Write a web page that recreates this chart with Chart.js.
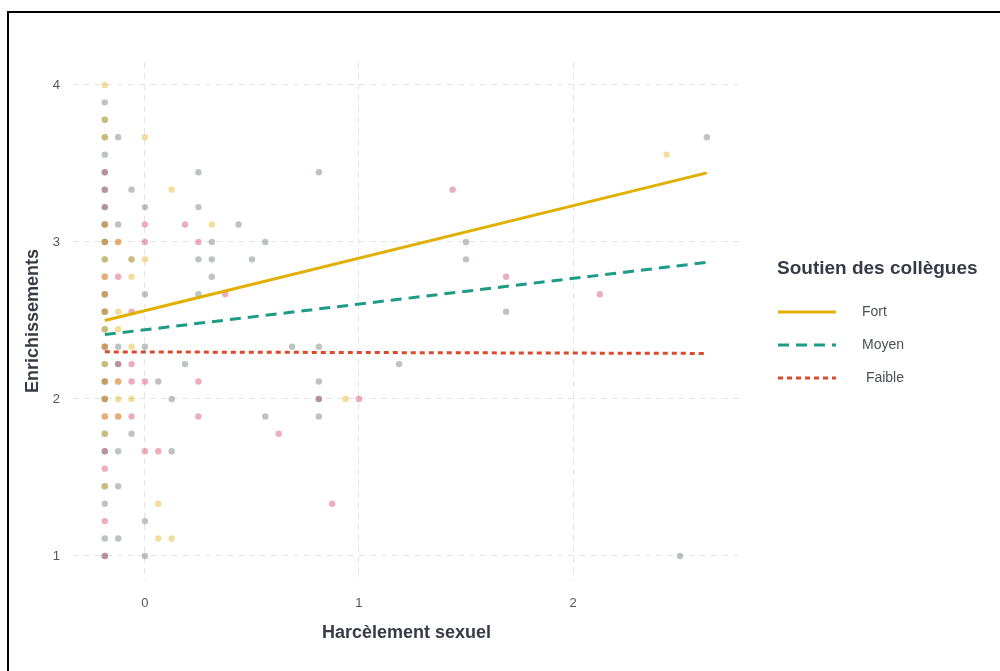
<!DOCTYPE html>
<html>
<head>
<meta charset="utf-8">
<script src="https://cdn.jsdelivr.net/npm/chart.js@4"></script>
<style>
  html, body { margin: 0; padding: 0; background: #fff; }
  #wrap { position: relative; width: 1000px; height: 671px; overflow: hidden; }
  #frame { position: absolute; left: 7px; top: 11px; width: 1100px; height: 800px;
           border-left: 2px solid #000; border-top: 2px solid #000; pointer-events: none; }
</style>
</head>
<body>
<div id="wrap">
  <canvas id="c" width="1000" height="671"></canvas>
  <div id="frame"></div>
</div>
<script>
// group names, as in the legend
const groups = ['Fort', 'Moyen', ' Faible'];

// observations, one array pair per group (x = harcèlement, y = enrichissements)
const fortX = [
  -0.1875, -0.1875, -0.1875, -0.1875, -0.1875, -0.1875, -0.1875, -0.1875, -0.1875,
  -0.1875, -0.1875, -0.1875, -0.1875, -0.1875, -0.1875, -0.1875, -0.1875,
  -0.125, -0.125, -0.125, -0.125, -0.125, -0.125,
  -0.0625, -0.0625, -0.0625, -0.0625,
  0, 0, 0.0625, 0.0625, 0.125, 0.125, 0.3125, 0.9375, 2.4375
];
const fortY = [
  4, 3.778, 3.667, 3.111, 3, 2.889, 2.778, 2.667, 2.556,
  2.444, 2.333, 2.222, 2.111, 2, 1.889, 1.778, 1.444,
  3, 2.556, 2.444, 2.111, 2, 1.889,
  2.889, 2.778, 2.333, 2,
  3.667, 2.889, 1.333, 1.111, 3.333, 1.111, 3.111, 2, 3.556
];

const moyenX = [
  -0.1875, -0.1875, -0.1875, -0.1875, -0.1875, -0.1875, -0.1875, -0.1875,
  -0.1875, -0.1875, -0.1875, -0.1875, -0.1875, -0.1875, -0.1875, -0.1875,
  -0.1875, -0.1875, -0.1875, -0.1875, -0.1875, -0.1875, -0.1875,
  -0.125, -0.125, -0.125, -0.125, -0.125, -0.125, -0.125,
  -0.0625, -0.0625, -0.0625,
  0, 0, 0, 0, 0,
  0.0625, 0.125, 0.125, 0.1875,
  0.25, 0.25, 0.25, 0.25,
  0.3125, 0.3125, 0.3125, 0.4375, 0.5, 0.5625, 0.5625, 0.6875,
  0.8125, 0.8125, 0.8125, 0.8125, 0.8125,
  1.1875, 1.5, 1.5, 1.6875, 2.5, 2.625
];
const moyenY = [
  3.889, 3.778, 3.667, 3.556, 3.444, 3.333, 3.222, 3.111,
  3, 2.889, 2.667, 2.556, 2.444, 2.333, 2.222, 2.111,
  2, 1.778, 1.667, 1.444, 1.333, 1.111, 1,
  3.667, 3.111, 2.333, 2.222, 1.667, 1.444, 1.111,
  3.333, 2.889, 1.778,
  3.222, 2.667, 2.333, 1.222, 1,
  2.111, 2, 1.667, 2.222,
  3.444, 3.222, 2.889, 2.667,
  3, 2.889, 2.778, 3.111, 2.889, 3, 1.889, 2.333,
  3.444, 2.333, 2.111, 2, 1.889,
  2.222, 3, 2.889, 2.556, 1, 3.667
];

const faibleX = [
  -0.1875, -0.1875, -0.1875, -0.1875, -0.1875, -0.1875, -0.1875, -0.1875,
  -0.1875, -0.1875, -0.1875, -0.1875, -0.1875, -0.1875, -0.1875, -0.1875,
  -0.125, -0.125, -0.125, -0.125, -0.125,
  -0.0625, -0.0625, -0.0625, -0.0625,
  0, 0, 0, 0,
  0.0625, 0.1875, 0.25, 0.25, 0.25, 0.375, 0.625,
  0.8125, 0.875, 1, 1.4375, 1.6875, 2.125
];
const faibleY = [
  3.444, 3.333, 3.222, 3.111, 3, 2.778, 2.667, 2.556,
  2.333, 2.111, 2, 1.889, 1.667, 1.556, 1.222, 1,
  3, 2.778, 2.222, 2.111, 1.889,
  2.556, 2.222, 2.111, 1.889,
  3.111, 3, 2.111, 1.667,
  1.667, 3.111, 3, 2.111, 1.889, 2.667, 1.778,
  2, 1.333, 2, 3.333, 2.778, 2.667
];

// fitted regression lines (ends of the x range)
const fitX = [-0.1875, 2.625];
const fortFit = [2.50, 3.44];
const moyenFit = [2.41, 2.87];
const faibleFit = [2.30, 2.29];

// tick labels
const xTicks = [0, 1, 2];
const yTicks = [1, 2, 3, 4];

const lineCol = ['#E1AF00', '#1E9B86', '#DC4A2C'];
const dotCol = ['rgba(222,176,20,0.42)', 'rgba(100,112,110,0.42)', 'rgba(215,60,90,0.42)'];
const dashes = [[], [11, 7], [5, 4]];
const FONT = "'Liberation Sans', Arial, sans-serif";
const TXT = '#353b47';

const pts = (xs, ys) => xs.map((x, i) => ({ x: x, y: ys[i] }));

const dots = (i, xs, ys) => ({
  type: 'scatter',
  label: groups[i] + ' points',
  data: pts(xs, ys),
  backgroundColor: dotCol[i],
  borderWidth: 0,
  pointRadius: 3.2,
  order: 2
});

const fit = (i, ys) => ({
  type: 'line',
  label: groups[i],
  data: pts(fitX, ys),
  borderColor: lineCol[i],
  borderWidth: 3,
  borderDash: dashes[i],
  pointRadius: 0,
  fill: false,
  order: 1
});

// ggplot-like legend on the right
const legendPlugin = {
  id: 'sideLegend',
  afterDraw: (chart) => {
    const ctx = chart.ctx;
    ctx.save();
    ctx.fillStyle = TXT;
    ctx.textBaseline = 'middle';
    ctx.font = 'bold 19px ' + FONT;
    ctx.fillText('Soutien des collègues', 777, 269);
    const ys = [312, 345, 378];
    ctx.font = '14px ' + FONT;
    for (let i = 0; i < groups.length; i++) {
      ctx.strokeStyle = lineCol[i];
      ctx.lineWidth = 3;
      ctx.setLineDash(dashes[i]);
      ctx.beginPath();
      ctx.moveTo(778, ys[i]);
      ctx.lineTo(836, ys[i]);
      ctx.stroke();
      ctx.setLineDash([]);
      ctx.fillStyle = '#4a4f58';
      ctx.fillText(groups[i], 862, ys[i]);
    }
    ctx.restore();
  }
};

const gridOpts = { color: '#e4e4e4', lineWidth: 1, drawTicks: false };

new Chart(document.getElementById('c'), {
  data: {
    datasets: [
      fit(0, fortFit), fit(1, moyenFit), fit(2, faibleFit),
      dots(0, fortX, fortY), dots(1, moyenX, moyenY), dots(2, faibleX, faibleY)
    ]
  },
  options: {
    responsive: false,
    animation: false,
    layout: { padding: { top: 62, right: 260, left: 0, bottom: 0 } },
    plugins: {
      legend: { display: false },
      tooltip: { enabled: false }
    },
    scales: {
      x: {
        type: 'linear',
        min: -0.336,
        max: 2.78,
        afterBuildTicks: (s) => { s.ticks = xTicks.map((v) => ({ value: v })); },
        afterFit: (s) => { s.height = 91; },
        grid: gridOpts,
        border: { display: false, dash: [6, 5] },
        ticks: { padding: 16, color: '#555', font: { family: FONT, size: 13 } },
        title: {
          display: true, text: 'Harcèlement sexuel', color: TXT,
          font: { family: FONT, size: 18, weight: 'bold' },
          padding: { top: 0, bottom: 27 }
        }
      },
      y: {
        type: 'linear',
        min: 0.847,
        max: 4.146,
        afterBuildTicks: (s) => { s.ticks = yTicks.map((v) => ({ value: v })); },
        afterFit: (s) => { s.width = 73; },
        grid: gridOpts,
        border: { display: false, dash: [6, 5] },
        ticks: { padding: 13, color: '#555', font: { family: FONT, size: 13 } },
        title: {
          display: true, text: 'Enrichissements', color: TXT,
          font: { family: FONT, size: 18, weight: 'bold' },
          padding: { top: 22, bottom: 0 }
        }
      }
    }
  },
  plugins: [legendPlugin]
});
</script>
</body>
</html>
